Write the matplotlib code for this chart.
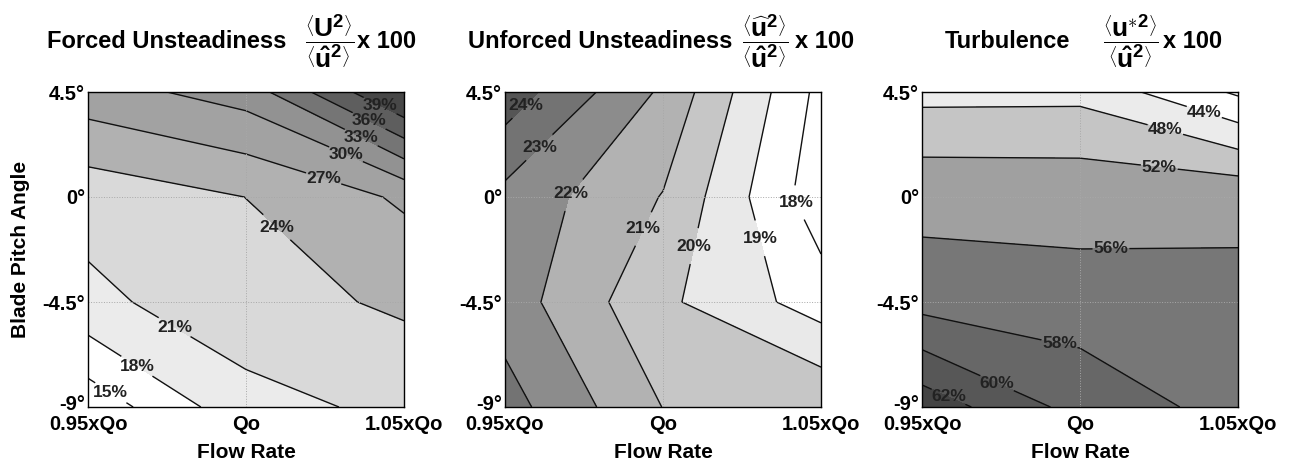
import numpy as np
import matplotlib
matplotlib.use('Agg')
import matplotlib.pyplot as plt
from matplotlib.transforms import ScaledTranslation

plt.rcParams['font.family'] = ['Liberation Sans', 'DejaVu Sans']
plt.rcParams['font.weight'] = 'bold'
plt.rcParams['mathtext.fontset'] = 'custom'
plt.rcParams['mathtext.rm'] = 'Liberation Sans:bold'
plt.rcParams['mathtext.bf'] = 'Liberation Sans:bold'
plt.rcParams['mathtext.it'] = 'Liberation Sans:bold'

# grid of the measurements
flow = [0.95, 1.0, 1.05]
pitch = [-9, -4.5, 0, 4.5]
flow_labels = ['0.95xQo', 'Qo', '1.05xQo']
pitch_labels = ['-9°', '-4.5°', '0°', '4.5°']

# rows = pitch (-9 .. 4.5), columns = flow rate
forced = [[13.0, 20.0, 21.7],
          [20.3, 22.8, 24.5],
          [22.1, 24.02, 27.46],
          [28.7, 31.3, 42.7]]
unforced = [[23.41, 20.98, 20.9],
            [22.53, 20.2, 18.53],
            [22.71, 20.95, 17.37],
            [24.6, 21.83, 17.7]]
turbulence = [[63.25, 59.25, 57.27],
              [57.3, 57.02, 56.9],
              [55.2, 55.0, 55.16],
              [46.77, 46.89, 39.4]]

forced_levels = [15, 18, 21, 24, 27, 30, 33, 36, 39]
unforced_levels = [18, 19, 20, 21, 22, 23, 24]
turb_levels = [40, 44, 48, 52, 56, 58, 60, 62]

forced_colors = ['#ffffff', '#ffffff', '#ebebeb', '#d9d9d9', '#b1b1b1',
                 '#a2a2a2', '#929292', '#757575', '#5e5e5e', '#474747']
unforced_colors = ['#ffffff', '#ffffff', '#e9e9e9', '#c6c6c6', '#b2b2b2',
                   '#8c8c8c', '#737373', '#555555']
turb_colors = ['#ffffff', '#ffffff', '#ebebeb', '#c5c5c5', '#a0a0a0',
               '#777777', '#676767', '#575757', '#444444']

forced_lab = [(1.0431, 4.10), (1.0394, 3.38), (1.0368, 2.64), (1.0317, 1.85),
              (1.0246, 0.81), (1.0106, -1.17), (0.9781, -5.42), (0.966, -7.14),
              (0.9575, -8.33)]
unforced_lab = [(0.9579, 3.74), (0.9616, 2.02), (0.9733, -0.12), (0.9955, -1.48),
                (1.0108, -2.13), (1.0315, -1.74), (1.0442, -0.12)]
turb_lab = [(1.0394, 3.67), (1.0269, 2.84), (1.0251, 1.31), (1.0098, -2.23),
            (0.9934, -6.35), (0.9739, -7.93), (0.9585, -8.53)]

W, H = 1295, 468
fig = plt.figure(figsize=(W / 100, H / 100), dpi=100)

X, Y = np.meshgrid(flow, pitch)
panels = [(forced, forced_levels, forced_colors, forced_lab, 88),
          (unforced, unforced_levels, unforced_colors, unforced_lab, 505),
          (turbulence, turb_levels, turb_colors, turb_lab, 922)]

for k, (z, lev, cols, lab, left) in enumerate(panels):
    z = np.array(z)
    ax = fig.add_axes([left / W, (H - 407) / H, 316 / W, 315 / H])
    ax.contourf(X, Y, z, levels=[0] + lev + [100], colors=cols)
    cs = ax.contour(X, Y, z, levels=lev, colors='#111111', linewidths=1.0)
    txts = ax.clabel(cs, fmt='%d%%', fontsize=12.5, colors='#222222',
                     inline=True, inline_spacing=1, manual=lab)
    for t in txts:
        t.set_fontweight('bold')
        t.set_rotation(0)
    ax.set_xlim(0.95, 1.05)
    ax.set_ylim(-9, 4.5)
    ax.set_xticks(flow)
    ax.set_xticklabels(flow_labels)
    ax.set_yticks(pitch)
    ax.set_yticklabels(pitch_labels)
    ax.tick_params(length=0, labelsize=14.5, pad=6)
    ax.tick_params(axis='y', pad=2)
    # lift the -9° label a bit, it sits on top of the first flow label
    lo = ax.get_yticklabels()[0]
    lo.set_transform(lo.get_transform() + ScaledTranslation(0, 4 / 100, fig.dpi_scale_trans))
    ax.grid(True, linestyle=':', color='#a8a8a8', linewidth=0.7)
    ax.set_axisbelow(False)
    for s in ax.spines.values():
        s.set_linewidth(1.0)
        s.set_zorder(5)
    ax.set_xlabel('Flow Rate', fontsize=15, fontweight='bold', labelpad=6)
    if k == 0:
        ax.set_ylabel('Blade Pitch Angle', fontsize=15, fontweight='bold', labelpad=9)


def ptext(x, y, s, **kw):
    fig.text(x / W, 1 - y / H, s, va='center', **kw)


frac_u = r'$\dfrac{\left\langle\mathbf{U}^{\mathbf{2}}\right\rangle}{\left\langle\hat{\mathbf{u}}^{\mathbf{2}}\right\rangle}$'
frac_w = r'$\dfrac{\left\langle\widehat{\mathbf{u}}^{\mathbf{2}}\right\rangle}{\left\langle\hat{\mathbf{u}}^{\mathbf{2}}\right\rangle}$'
frac_t = r'$\dfrac{\left\langle\mathbf{u}^{\ast\mathbf{2}}\right\rangle}{\left\langle\hat{\mathbf{u}}^{\mathbf{2}}\right\rangle}$'

ptext(47, 42, 'Forced Unsteadiness', fontsize=17, fontweight='bold')
ptext(330, 41, frac_u, fontsize=19, ha='center')
ptext(357, 42, 'x 100', fontsize=17, fontweight='bold')

ptext(468, 42, 'Unforced Unsteadiness', fontsize=17, fontweight='bold')
ptext(765, 41, frac_w, fontsize=19, ha='center')
ptext(795, 42, 'x 100', fontsize=17, fontweight='bold')

ptext(945, 42, 'Turbulence', fontsize=17, fontweight='bold')
ptext(1131, 41, frac_t, fontsize=19, ha='center')
ptext(1163, 42, 'x 100', fontsize=17, fontweight='bold')

fig.savefig('out.png', dpi=100)
